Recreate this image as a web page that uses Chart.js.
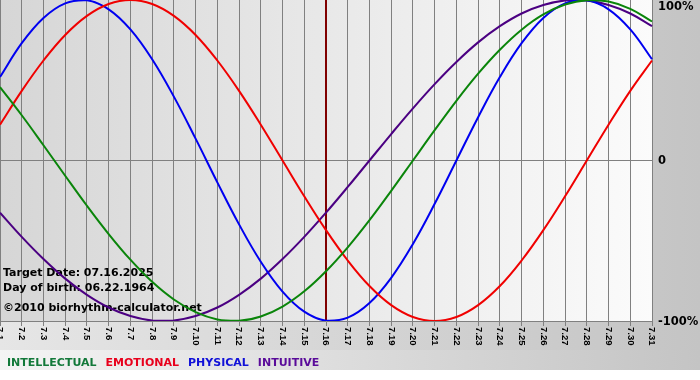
<!DOCTYPE html>
<html>
<head>
<meta charset="utf-8">
<script src="https://cdn.jsdelivr.net/npm/chart.js@4.4.0/dist/chart.umd.min.js"></script>
<style>
  html, body { margin: 0; padding: 0; background: #fff; }
  #wrap { width: 700px; height: 380px; }
</style>
</head>
<body>
<div id="wrap"><canvas id="bio" width="700" height="380"></canvas></div>
<script>
// days of July 2025
const days = ['7.1','7.2','7.3','7.4','7.5','7.6','7.7','7.8','7.9','7.10','7.11','7.12','7.13','7.14','7.15','7.16',
              '7.17','7.18','7.19','7.20','7.21','7.22','7.23','7.24','7.25','7.26','7.27','7.28','7.29','7.30','7.31'];

// percent values
const intellectual = [45.8, 28.2, 9.5, -9.5, -28.2, -45.8, -61.8, -75.6, -86.6, -94.5, -99.0, -99.9, -97.2, -91.0, -81.5, -69.0,
                      -54.1, -37.2, -18.9, 0, 18.9, 37.2, 54.1, 69.0, 81.5, 91.0, 97.2, 99.9, 99.0, 94.5, 86.6];
const emotional = [22.3, 43.4, 62.3, 78.2, 90.1, 97.5, 100, 97.5, 90.1, 78.2, 62.3, 43.4, 22.3, 0, -22.3, -43.4,
                   -62.3, -78.2, -90.1, -97.5, -100, -97.5, -90.1, -78.2, -62.3, -43.4, -22.3, 0, 22.3, 43.4, 62.3];
const physical = [52.0, 73.1, 88.8, 97.9, 99.8, 94.2, 81.7, 63.1, 39.8, 13.6, -13.6, -39.8, -63.1, -81.7, -94.2, -99.8,
                  -97.9, -88.8, -73.1, -52.0, -27.0, 0, 27.0, 52.0, 73.1, 88.8, 97.9, 99.8, 94.2, 81.7, 63.1];
const intuitive = [-32.5, -47.6, -61.4, -73.6, -83.7, -91.6, -96.9, -99.7, -99.7, -96.9, -91.6, -83.7, -73.6, -61.4, -47.6, -32.5,
                   -16.5, 0, 16.5, 32.5, 47.6, 61.4, 73.6, 83.7, 91.6, 96.9, 99.7, 99.7, 96.9, 91.6, 83.7];

const yTicks = [100, 0, -100];
const targetDay = '7.16';
const infoLines = ['Target Date: 07.16.2025', 'Day of birth: 06.22.1964', '\u00A92010 biorhythm-calculator.net'];

const series = [
    { name: 'INTELLECTUAL', data: intellectual, color: '#0a850a', text: '#13793a' },
    { name: 'EMOTIONAL', data: emotional, color: '#f00000', text: '#e8001c' },
    { name: 'PHYSICAL', data: physical, color: '#0000f0', text: '#1010d8' },
    { name: 'INTUITIVE', data: intuitive, color: '#4b0082', text: '#5a0c9a' },
];

const bgPlugin = {
    id: 'bg',
    beforeDraw(chart) {
        const { ctx, chartArea: a } = chart;
        ctx.save();
        ctx.fillStyle = '#fff';
        ctx.fillRect(0, 0, chart.width, chart.height);
        let g = ctx.createLinearGradient(0, 0, chart.width, 0);
        g.addColorStop(0, '#e6e6e6');
        g.addColorStop(1, '#c4c4c4');
        ctx.fillStyle = g;
        ctx.fillRect(0, 0, chart.width, 350);
        g = ctx.createLinearGradient(0, 0, chart.width, 0);
        g.addColorStop(0, '#f4f4f4');
        g.addColorStop(1, '#c4c4c4');
        ctx.fillStyle = g;
        ctx.fillRect(0, 350, chart.width, 20);
        g = ctx.createLinearGradient(a.left, 0, a.right, 0);
        g.addColorStop(0, '#d6d6d6');
        g.addColorStop(1, '#fbfbfb');
        ctx.fillStyle = g;
        ctx.fillRect(a.left, a.top, a.right - a.left, a.bottom - a.top);
        ctx.restore();
    },
    beforeDatasetsDraw(chart) {
        const { ctx, chartArea: a, scales } = chart;
        ctx.save();
        // target day marker
        const x = Math.round(scales.x.getPixelForValue(days.indexOf(targetDay)));
        ctx.fillStyle = '#800000';
        ctx.fillRect(x - 1, a.top, 2, a.bottom - a.top);
        // info text
        ctx.fillStyle = '#000';
        ctx.font = 'bold 11px "DejaVu Sans"';
        ctx.textBaseline = 'alphabetic';
        ctx.fillText(infoLines[0], 3, 275.5);
        ctx.fillText(infoLines[1], 3, 291);
        ctx.fillText(infoLines[2], 3, 310.5);
        ctx.restore();
    },
    afterDraw(chart) {
        const { ctx, chartArea: a, scales } = chart;
        ctx.save();
        // rotated day labels
        ctx.fillStyle = '#000';
        ctx.font = 'bold 9.5px "Liberation Sans"';
        ctx.textAlign = 'left';
        ctx.textBaseline = 'middle';
        days.forEach((d, i) => {
            const x = scales.x.getPixelForValue(i);
            ctx.save();
            ctx.translate(x, a.bottom + 6);
            ctx.rotate(Math.PI / 2);
            ctx.fillText(d, 0, 0);
            ctx.restore();
        });
        // percent labels
        ctx.font = 'bold 11.5px "DejaVu Sans"';
        yTicks.forEach(v => {
            const y = Math.max(scales.y.getPixelForValue(v), 6) + 1;
            ctx.fillText(v === 0 ? '0' : v + '%', a.right + 6, y);
        });
        // legend
        ctx.font = 'bold 11px "DejaVu Sans"';
        ctx.textBaseline = 'alphabetic';
        let lx = 7;
        series.forEach(s => {
            ctx.fillStyle = s.text;
            ctx.fillText(s.name, lx, 366);
            lx += ctx.measureText(s.name).width + 9;
        });
        ctx.restore();
    }
};

new Chart(document.getElementById('bio'), {
    type: 'line',
    data: {
        labels: days,
        datasets: series.map(s => ({
            label: s.name,
            data: s.data,
            borderColor: s.color,
            borderWidth: 2,
            pointRadius: 0,
            tension: 0.4,
            fill: false,
        })),
    },
    options: {
        responsive: false,
        animation: false,
        events: [],
        layout: { padding: 0 },
        plugins: {
            legend: { display: false },
            tooltip: { enabled: false },
        },
        scales: {
            x: {
                type: 'category',
                offset: false,
                grid: { color: '#808080', lineWidth: 1, offset: false, drawTicks: true, tickLength: 5 },
                border: { display: true, color: '#808080' },
                ticks: { display: false },
                afterFit(s) { s.height = 59; },
            },
            y: {
                position: 'right',
                min: -100,
                max: 100,
                grid: {
                    drawTicks: false,
                    color: c => (c.tick && c.tick.value === 0 ? '#808080' : 'rgba(0,0,0,0)'),
                },
                border: { display: false },
                ticks: { display: false, stepSize: 100 },
                afterFit(s) { s.width = 48; },
            },
        },
    },
    plugins: [bgPlugin],
});
</script>
</body>
</html>
